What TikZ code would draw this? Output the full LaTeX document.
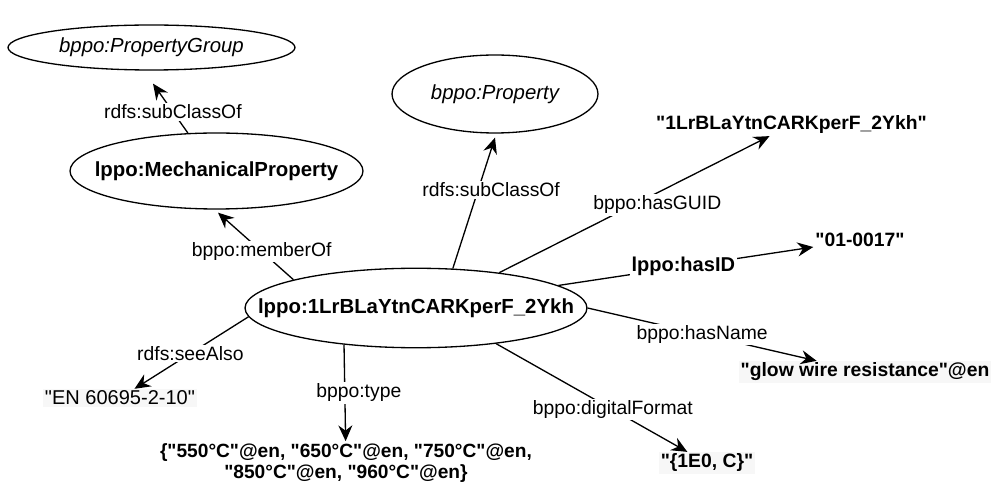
\documentclass[tikz,border=0pt]{standalone}
\usepackage{fontspec}
\setmainfont{Liberation Sans}[Ligatures=TeXOff]
\usetikzlibrary{arrows.meta,shapes.geometric}
\newcommand{\ellbox}[1]{\makebox[0pt]{#1}}
\tikzset{
	cls/.style={draw,ellipse,inner sep=0pt,line width=0.75pt},
	lit/.style={inner sep=1pt,font=\bfseries\fontsize{11}{13}\selectfont},
	shaded/.style={fill=black!3},
	lbl/.style={fill=white,inner sep=1pt,font=\fontsize{11}{13}\selectfont},
	rel/.style={line width=0.75pt,-{Stealth[length=9pt,width=8pt,inset=3pt]}}
}
\begin{document}
\begin{tikzpicture}[x=0.02cm,y=-0.02cm,font=\fontsize{11.6}{13.9}\selectfont]%lppo resource graph
		\useasboundingbox (0,0) rectangle (992,486);
		\node[cls,minimum width=5.74cm,minimum height=0.9cm] (propgroup) at (151.5,47.5) {\itshape\ellbox{bppo:PropertyGroup}};
		\node[cls,minimum width=5.86cm,minimum height=1.52cm] (mechprop) at (216.5,171) {\bfseries\ellbox{lppo:MechanicalProperty}};
		\node[cls,minimum width=4.12cm,minimum height=1.56cm] (property) at (495,94) {\itshape\ellbox{bppo:Property}};
		\node[cls,minimum width=6.84cm,minimum height=1.59cm] (res) at (416,308) {\bfseries\ellbox{lppo:1LrBLaYtnCARKperF\_2Ykh}};
		\node[lit] (guid) at (791.5,125) {"1LrBLaYtnCARKperF\_2Ykh"};
		\node[lit] (id) at (860,240) {"01-0017"};
		\node[lit,shaded] (name) at (865,372) {"glow wire resistance"@en};
		\node[lit,shaded] (format) at (707,463) {"\{1E0, C\}"};
		\node[lit,align=center,font=\bfseries\fontsize{10.9}{12.3}\selectfont] (type) at (346,463) {\{"550°C"@en, "650°C"@en, "750°C"@en,\\"850°C"@en, "960°C"@en\}};
		\node[inner sep=1pt,shaded,font=\fontsize{11.4}{13.7}\selectfont] (seealso) at (120,398) {"EN 60695-2-10"};
		\draw[rel] (mechprop.127) -- node[lbl,pos=.43]{rdfs:subClassOf} ([shift={(1.5,13)}]propgroup.south);
		\draw[rel] (res.167.6) -- node[lbl,pos=.42]{bppo:memberOf} ([shift={(1.5,3)}]mechprop.south);
		\draw[rel] (res.47) -- node[lbl,pos=.6,xshift=0.26cm]{rdfs:subClassOf} ([yshift=-0.08cm]property.south);
		\draw[rel] (res.23) -- node[lbl,pos=.585,yshift=-0.24cm]{bppo:hasGUID} ([shift={(-64,23)}]guid);
		\draw[rel] (res.9) -- node[lbl,pos=.49,font=\bfseries\fontsize{11.4}{13}\selectfont]{lppo:hasID} ([shift={(-49,4)}]id);
		\draw[rel] (res.east) -- node[lbl,pos=.5]{bppo:hasName} ([shift={(-48,-24)}]name);
		\draw[rel] (res.336) -- node[lbl,pos=.61]{bppo:digitalFormat} ([shift={(-2,-26)}]format);
		\draw[rel] (res.207) -- node[lbl,pos=.5,xshift=0.28cm]{bppo:type} ([shift={(-1,-22)}]type);
		\draw[rel] (res.183.5) -- node[lbl,pos=.51]{rdfs:seeAlso} ([shift={(6,-20)}]seealso);
\end{tikzpicture}
\end{document}
